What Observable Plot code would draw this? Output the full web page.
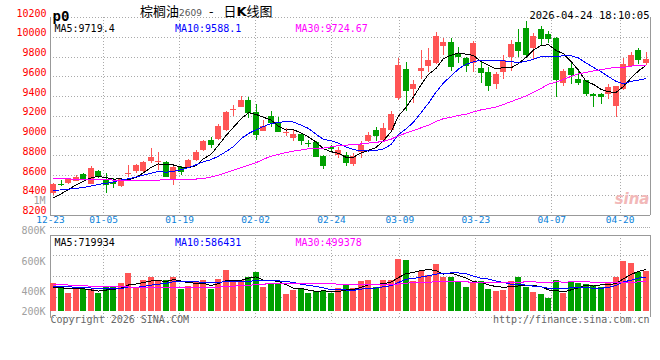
<!DOCTYPE html>
<html><head><meta charset="utf-8">
<script src="https://cdn.jsdelivr.net/npm/d3@7"></script>
<script src="https://cdn.jsdelivr.net/npm/@observablehq/plot@0.6"></script>
<style>
html,body{margin:0;padding:0;background:#fff;}
#chart{position:relative;width:660px;height:360px;overflow:hidden;background:#fff;}
#chart svg{position:absolute;left:0;top:0;}
#title{position:absolute;left:140px;top:1px;font-family:"Noto Sans CJK SC";font-size:13px;color:#000;white-space:nowrap;line-height:20px;}
#title .code{font-family:"DejaVu Sans";font-size:9px;color:#555;}
#title .dash{margin-left:7px;}
#title .kind{margin-left:10px;}
#sep{position:absolute;left:50px;top:227px;width:600px;height:0;border-top:1px dotted #aaa;}
</style></head>
<body><div id="chart"><div id="sep"></div><div id="title">棕榈油<span class="code">2609</span><span class="dash">-</span><span class="kind">日<b style="font-family:'DejaVu Sans'">K</b>线图</span></div></div>
<script>
// ---------- data ----------
const dates = ["12-23","12-24","12-25","12-26","12-29","12-30","12-31",
"01-05","01-06","01-07","01-08","01-09","01-12","01-13","01-14","01-15","01-16",
"01-19","01-20","01-21","01-22","01-23","01-26","01-27","01-28","01-29","01-30",
"02-02","02-03","02-04","02-05","02-06","02-09","02-10","02-11","02-12","02-13",
"02-24","02-25","02-26","02-27","03-02","03-03","03-04","03-05","03-06",
"03-09","03-10","03-11","03-12","03-13","03-16","03-17","03-18","03-19","03-20",
"03-23","03-24","03-25","03-26","03-27","03-30","03-31","04-01","04-02","04-03",
"04-07","04-08","04-09","04-10","04-13","04-14","04-15","04-16","04-17",
"04-20","04-21","04-22","04-23","04-24"];
const open  = [8420,8510,8520,8545,8615,8510,8645,8565,8525,8485,8615,8640,8640,8740,8740,8735,8550,8685,8680,8750,
8850,8955,8965,9060,9255,9290,9360,9235,9050,9200,9130,9030,8980,9015,8925,8935,8795,8880,8805,8805,
8715,8830,8940,9055,8960,9055,9385,9675,9470,9655,9700,9730,9905,9945,9840,9790,9730,9685,9645,9520,
9640,9795,9950,10085,9890,10080,10025,9990,9530,9680,9570,9560,9420,9420,9420,9300,9470,9700,9865,9730];
const high  = [8515,8550,8575,8605,8625,8690,8650,8620,8570,8570,8700,8710,8745,8875,8835,8745,8690,8690,8760,8855,
8960,8985,9115,9250,9310,9400,9395,9320,9160,9250,9190,9080,9055,9020,8955,8940,8800,8905,8885,8835,
8820,8940,9040,9085,9125,9250,9790,9745,9565,9865,9885,10045,9985,9990,9900,9795,9960,9765,9695,9645,
9815,9965,10075,10160,10035,10110,10060,9995,9670,9755,9670,9565,9430,9430,9520,9500,9790,9850,9885,9850];
const low   = [8400,8485,8510,8540,8550,8505,8575,8415,8470,8480,8585,8625,8630,8720,8650,8580,8500,8600,8670,8745,
8845,8875,8960,9050,9200,9285,9175,8955,9045,9090,9035,9000,8940,8905,8885,8780,8665,8840,8770,8690,
8695,8770,8935,8940,8940,9040,9360,9250,9325,9570,9645,9720,9815,9655,9735,9640,9645,9530,9455,9470,
9570,9655,9795,9810,9760,9905,9935,9395,9505,9520,9510,9400,9285,9320,9375,9190,9465,9690,9720,9715];
const close = [8505,8505,8565,8585,8560,8670,8580,8500,8515,8565,8625,8700,8735,8785,8745,8585,8685,8635,8755,8835,
8945,8905,9095,9240,9265,9360,9225,9005,9095,9130,9040,9035,9020,8940,8920,8785,8690,8875,8855,8720,
8790,8905,9005,8995,9080,9220,9715,9450,9520,9680,9765,10005,9950,9690,9795,9705,9940,9635,9505,9620,
9765,9925,9855,9815,10005,9975,9975,9560,9650,9615,9530,9420,9400,9395,9495,9500,9725,9815,9765,9775];
const volume = [479,411,320,377,377,377,309,411,433,479,649,394,524,575,535,535,575,388,433,507,
524,388,552,694,507,535,575,660,422,462,462,298,365,405,320,348,348,309,405,450,
405,507,535,422,524,535,892,875,518,688,620,807,575,586,501,416,479,518,382,348,
365,518,586,422,331,297,224,535,309,501,473,462,439,422,501,586,858,813,671,677].map(v => v * 1000);

const ma5Head  = [8375,8415,8460,8505];
const ma10Head = [8450,8455,8462,8470,8480,8495,8510,8522,8535];
const ma30Head = [8570,8568,8566,8564,8562,8560,8558,8556,8555,8554,8553,8553,8553,8554,8555,8556,8558,8560,8562,8565,
8570,8585,8605,8630,8655,8680,8705,8730,8765];
const volMa5Head  = [420000,410000,395000,388000];
const volMa10Head = [433000,430000,425000,418000,411000,405000,400000,397000,398000];
const volMa30Head = [467000,462000,455000,448000,442000,437000,434000,432000,430000,428000,422000,418000,415000,413000,412000,
411000,411000,411000,412000,413000,414000,416000,420000,428000,436000,444000,452000,460000,470000];

const tickDates   = ["12-23","01-05","01-19","02-02","02-24","03-09","03-23","04-07","04-20"];
const priceTicks  = [8200,8400,8600,8800,9000,9200,9400,9600,9800,10000,10200];
const volDomain   = [-100000, 1300000];
const volLabelTicks  = [200000,400000,600000,800000,1000000];
const volLabelDomain = [268000, 1000000];
const priceMaText = ["MA5:9719.4","MA10:9588.1","MA30:9724.67"];
const volMaText   = ["MA5:719934","MA10:586431","MA30:499378"];
const stamp = "2026-04-24 18:10:05";
const productCode = "p0";
const footerLeft = "Copyright 2026 SINA.COM";
const footerRight = "http://finance.sina.com.cn";

// ---------- styles ----------
const W = 660, H = 360;
const UP = "#ff5555", DOWN = "#00a000";
const GRID = "#aaaaaa", FRAME = "#999999";
const MA_COLORS = ["#000000", "#0000ff", "#ff00ff"];
const DOTS = "1,2";
const FONT = "DejaVu Sans Mono";
const baseStyle = {background: "transparent", fontFamily: FONT, fontSize: "10px", overflow: "visible"};

const N = dates.length;
const rows = dates.map((d, i) => ({i, date: d, o: open[i], h: high[i], l: low[i], c: close[i], v: volume[i]}));
const col = d => d.c >= d.o ? UP : DOWN;
function movingAvg(vals, n, head) {
  return vals.map((_, i) => i < n - 1 ? head[i] : d3.mean(vals.slice(i - n + 1, i + 1)));
}
const priceMAs = [movingAvg(close, 5, ma5Head), movingAvg(close, 10, ma10Head), movingAvg(close, 30, ma30Head)];
const volMAs   = [movingAvg(volume, 5, volMa5Head), movingAvg(volume, 10, volMa10Head), movingAvg(volume, 30, volMa30Head)];
// Sina spaces its date grid over N-1 steps while candles use N slots
const tickPos = tickDates.map(t => dates.indexOf(t) * N / (N - 1));
const fmtVol = v => v >= 1e6 ? (v / 1e6) + "M" : (v / 1e3) + "K";
const crisp = {shapeRendering: "crispEdges"};

const xOpt = {domain: [0, N], axis: null};
const maLines = (arr) => arr.map((s, k) => Plot.line(s, {x: (d, i) => i + 0.4, y: d => d, stroke: MA_COLORS[k], strokeWidth: 1, ...crisp}));

// ---------- price panel ----------
const pricePlot = Plot.plot({
  width: W, height: H, marginLeft: 50, marginRight: 10, marginTop: 17, marginBottom: H - 214.6,
  x: xOpt, y: {domain: [priceTicks[0], priceTicks[priceTicks.length - 1]], axis: null},
  color: {type: "identity"},
  style: {...baseStyle, background: "#fff"},
  marks: [
    Plot.ruleY(priceTicks.slice(1), {stroke: GRID, strokeDasharray: DOTS, ...crisp}),
    Plot.ruleX(tickPos.slice(1), {stroke: GRID, strokeDasharray: DOTS, ...crisp}),
    Plot.ruleY([priceTicks[0]], {stroke: FRAME, ...crisp}),
    Plot.ruleX([0, N], {stroke: FRAME, ...crisp}),
    Plot.text(["sina"], {frameAnchor: "bottom-right", dx: -1, dy: -11, textAnchor: "end", lineAnchor: "bottom",
      fill: "#f2b8b8", fontSize: 15, fontWeight: "bold", fontStyle: "italic", fontFamily: "DejaVu Sans"}),
    Plot.ruleX(rows, {x: d => d.i + 0.4, y1: "l", y2: "h", stroke: col, ...crisp}),
    Plot.rect(rows, {x1: d => d.i, x2: d => d.i + 0.8, y1: d => Math.min(d.o, d.c), y2: d => Math.max(d.o, d.c), fill: col, ...crisp}),
    Plot.ruleY(rows.filter(d => Math.abs(d.c - d.o) < 20), {y: "c", x1: d => d.i, x2: d => d.i + 0.8, stroke: col, ...crisp}),
    ...maLines(priceMAs),
    Plot.text(priceTicks, {y: d => d, text: d => String(d), frameAnchor: "left", textAnchor: "end", dx: -4, dy: -4.2, fill: "#ff0000"}),
    Plot.text(tickDates, {x: (d, k) => tickPos[k], text: d => d, frameAnchor: "bottom", dy: 8, fontSize: 9.5, fill: "#0a80d8"}),
    ...priceMaText.map((t, k) => Plot.text([t], {frameAnchor: "top-left", textAnchor: "start", dx: 4 + 120.5 * k, dy: 7, fill: MA_COLORS[k]})),
    Plot.text([productCode], {frameAnchor: "top-left", textAnchor: "start", dx: 2, dy: -6, fontWeight: "bold", fontSize: 14, fill: "#000"}),
    Plot.text([stamp], {frameAnchor: "top-right", textAnchor: "end", dx: -1, dy: -5.5, fontSize: 10.5, fill: "#000"})
  ]
});

// ---------- volume panel ----------
const volGrid = d3.range(1, 4).map(k => volDomain[0] + k * (volDomain[1] - volDomain[0]) / 4);
const volPlot = Plot.plot({
  width: W, height: H, marginLeft: 50, marginRight: 10, marginTop: 234.7, marginBottom: H - 317.3,
  x: xOpt, y: {domain: volDomain, axis: null},
  color: {type: "identity"},
  style: baseStyle,
  marks: [
    Plot.ruleY(volGrid.concat([volDomain[0]]), {stroke: GRID, strokeDasharray: DOTS, ...crisp}),
    Plot.ruleX(tickPos.slice(1), {stroke: GRID, strokeDasharray: DOTS, ...crisp}),
    Plot.ruleY([volDomain[1]], {stroke: FRAME, ...crisp}),
    Plot.ruleX([0, N], {stroke: FRAME, ...crisp}),
    Plot.rect(rows, {x1: d => d.i, x2: d => d.i + 0.8, y1: 0, y2: "v", fill: col, ...crisp}),
    ...maLines(volMAs),
    ...volMaText.map((t, k) => Plot.text([t], {frameAnchor: "top-left", textAnchor: "start", dx: 4 + 120.5 * k, dy: 4, fill: MA_COLORS[k]})),
    Plot.text([footerLeft], {frameAnchor: "bottom-left", textAnchor: "start", dx: 0, dy: 5.5, fill: "#666"}),
    Plot.text([footerRight], {frameAnchor: "bottom-right", textAnchor: "end", dx: -1, dy: 5.5, fill: "#666"})
  ]
});

// ---------- Sina's volume label column (its own scale, clamped at the panel bottom) ----------
const volLabelPlot = Plot.plot({
  width: W, height: H, marginLeft: 50, marginRight: 10, marginTop: 200.3, marginBottom: H - 311.2,
  x: xOpt, y: {domain: volLabelDomain, clamp: true, axis: null},
  style: baseStyle,
  marks: [
    Plot.text(volLabelTicks, {y: d => d, text: fmtVol, frameAnchor: "left", textAnchor: "end", dx: -5, fill: "#a0a0a0"})
  ]
});

const chart = document.getElementById("chart");
chart.insertBefore(pricePlot, chart.firstChild);
chart.appendChild(volPlot);
chart.appendChild(volLabelPlot);
</script>
</body></html>
